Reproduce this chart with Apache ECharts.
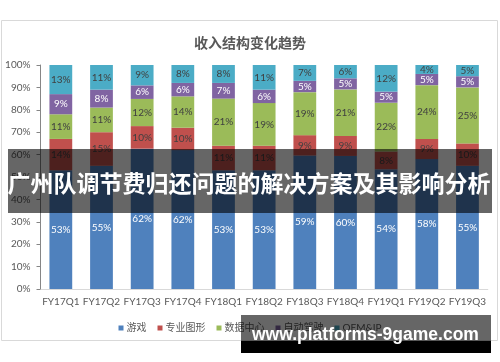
<!DOCTYPE html>
<html>
<head>
<meta charset="utf-8">
<script src="https://cdn.jsdelivr.net/npm/echarts@6/dist/echarts.min.js"></script>
<style>
html,body{margin:0;padding:0;background:#fff;}
#c{width:500px;height:362px;}
</style>
</head>
<body>
<div id="c"></div>
<script>
const categories = ['FY17Q1','FY17Q2','FY17Q3','FY17Q4','FY18Q1','FY18Q2','FY18Q3','FY18Q4','FY19Q1','FY19Q2','FY19Q3'];
const seriesNames = ['游戏','专业图形','数据中心','自动驾驶','OEM&IP'];
const gaming     = [53,55,62,62,53,53,59,60,54,58,55];
const proViz     = [14,15,10,10,11,11, 9, 9, 8, 9,10];
const dataCenter = [11,11,12,14,21,19,19,21,22,24,25];
const autoDrive  = [ 9, 8, 6, 6, 7, 6, 5, 5, 5, 5, 5];
const oemIp      = [13,11, 9, 8, 8,11, 7, 6,12, 4, 5];
const yTickValues = [0,10,20,30,40,50,60,70,80,90,100];
const bannerText = '广州队调节费归还问题的解决方案及其影响分析';
const watermarkText = 'www.platforms-9game.com';

const raw = [gaming, proViz, dataCenter, autoDrive, oemIp];
const colors = ['#4f81bd','#c0504d','#9bbb59','#8064a2','#4bacc6'];
const labelColors = ['#ffffff','#404040','#404040','#ffffff','#404040'];
const totals = categories.map((c,i)=>raw.reduce((s,arr)=>s+arr[i],0));

const latin = 'Lato, "Noto Sans CJK SC", sans-serif';
const chart = echarts.init(document.getElementById('c'), null, {renderer:'canvas'});
chart.setOption({
  animation:false,
  color: colors,
  title:{
    text:'收入结构变化趋势', left:'center', top:31,
    textStyle:{fontSize:14, fontWeight:'bold', color:'#595959', fontFamily:'"Noto Sans CJK SC", sans-serif'}
  },
  grid:{left:40.5, right:12.2, top:65, bottom:73, containLabel:false},
  legend:{
    data: seriesNames, left:'center', top:318, icon:'rect', itemWidth:5, itemHeight:5, itemGap:11,
    textStyle:{fontSize:10, color:'#595959', fontFamily:latin, padding:[0,0,0,-2]}
  },
  xAxis:{
    type:'category', data:categories,
    axisLine:{lineStyle:{color:'#d9d9d9'}},
    axisTick:{show:false},
    axisLabel:{color:'#595959', fontSize:10, margin:8, fontFamily:latin, interval:0}
  },
  yAxis:{
    type:'value', min:yTickValues[0], max:yTickValues[yTickValues.length-1], interval:10,
    splitLine:{show:false},
    axisLine:{show:true, lineStyle:{color:'#868686'}},
    axisTick:{show:true, length:4, lineStyle:{color:'#868686'}},
    axisLabel:{formatter:'{value}%', color:'#595959', fontSize:10, margin:10, fontFamily:latin}
  },
  series: seriesNames.map((name,k)=>({
    name, type:'bar', stack:'total', barWidth:'56%',
    data: raw[k].map((v,i)=>v/totals[i]*100),
    label:{
      show:true, position:'inside', color:labelColors[k], fontSize:10, fontFamily:latin,
      formatter:(p)=>raw[k][p.dataIndex]+'%'
    }
  })),
  graphic:[
    {type:'rect', z:1, silent:true, shape:{x:1.5,y:20.5,width:496,height:320}, style:{fill:'none', stroke:'#d9d9d9', lineWidth:1}},
    {type:'rect', z:100, shape:{x:8,y:149,width:484,height:64}, style:{fill:'rgba(0,0,0,0.6)'}},
    {type:'text', z:101, x:249, y:183, style:{text:bannerText, fill:'#fff', font:'bold 23px "Noto Sans CJK SC", sans-serif', textAlign:'center', textVerticalAlign:'middle'}},
    {type:'rect', z:100, shape:{x:241,y:315,width:250,height:26}, style:{fill:'rgba(0,0,0,0.6)'}},
    {type:'rect', z:100, shape:{x:241,y:341,width:250,height:12}, style:{fill:'#000'}},
    {type:'text', z:101, x:252, y:335, style:{text:watermarkText, fill:'#fff', font:'bold 17.5px "Liberation Sans", Arial, sans-serif', textAlign:'left', textVerticalAlign:'middle'}}
  ]
});
</script>
</body>
</html>
